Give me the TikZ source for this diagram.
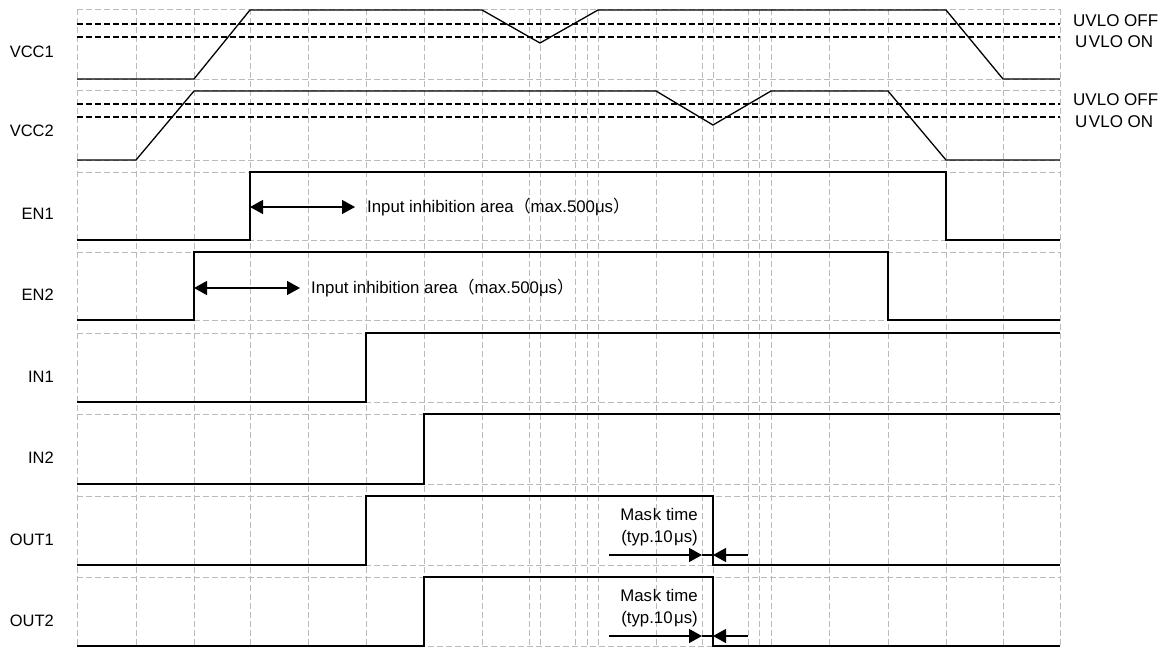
\documentclass[tikz,border=0pt]{standalone}
\usepackage{fontspec}
\setmainfont{Liberation Sans}
\newfontfamily\cjk{Noto Sans CJK SC}
\usetikzlibrary{arrows.meta}
\tikzset{mytip/.tip={Triangle[length=13pt,width=14pt]}}
\begin{document}
\begin{tikzpicture}[x=1pt,y=-1pt,
  gridline/.style={draw=black!27, line width=0.9pt, dash pattern=on 6pt off 3pt},
  sig/.style={draw=black, line width=1.3pt, line join=miter},
  uvlo/.style={draw=black, line width=1.2pt, dash pattern=on 6pt off 3pt},
  lbl/.style={font=\fontsize{16.5}{18}\selectfont, anchor=base east, inner sep=0pt},
  rlbl/.style={font=\fontsize{17}{18}\selectfont, anchor=base west, inner sep=0pt},
  note/.style={font=\fontsize{16.8}{18}\selectfont, inner sep=0pt},
  dim/.style={draw=black, line width=1.3pt}
]
\useasboundingbox (0,0) rectangle (1170,648);

% grid
\foreach \t/\b in {9/79, 90/160, 172/240, 252/320, 333/402, 414/484, 496/565, 577/646}{
  \draw[gridline] (77,\t) -- (1060,\t);
  \draw[gridline] (77,\b) -- (1060,\b);
}
\foreach \x in {77,136,194,250,308,366,424,482,529,540,575,587,598,656,702,713,748,759,771,829,888,946,1003,1060}{
  \draw[gridline] (\x,9) -- (\x,646);
}

% UVLO thresholds
\draw[uvlo] (77,24) -- (1060,24);
\draw[uvlo] (77,37) -- (1060,37);
\draw[uvlo] (77,104) -- (1060,104);
\draw[uvlo] (77,117) -- (1060,117);

% signals
\draw[sig] (77,79) -- (194,79) -- (250,10) -- (482,10) -- (540,43) -- (598,10) -- (946,10) -- (1003,79) -- (1060,79);
\draw[sig] (77,160) -- (136,160) -- (194,91) -- (656,91) -- (713,125) -- (771,91) -- (888,91) -- (946,160) -- (1060,160);
\draw[sig] (77,240) -- (250,240) -- (250,172) -- (946,172) -- (946,240) -- (1060,240);
\draw[sig] (77,320) -- (194,320) -- (194,252) -- (888,252) -- (888,320) -- (1060,320);
\draw[sig] (77,402) -- (366,402) -- (366,333) -- (1060,333);
\draw[sig] (77,484) -- (424,484) -- (424,414) -- (1060,414);
\draw[sig] (77,565) -- (366,565) -- (366,496) -- (713,496) -- (713,565) -- (1060,565);
\draw[sig] (77,646) -- (424,646) -- (424,577) -- (713,577) -- (713,646) -- (1060,646);

% left labels
\node[lbl] (lv1) at (54,57.5) {VCC1};
\node[lbl] (lv2) at (54,136) {VCC2};
\node[lbl] (le1) at (54,219) {EN1};
\node[lbl] (le2) at (54,300) {EN2};
\node[lbl] (li1) at (54,382) {IN1};
\node[lbl] (li2) at (54,463) {IN2};
\node[lbl] (lo1) at (54,545) {OUT1};
\node[lbl] (lo2) at (54,626) {OUT2};

% right labels
\node[rlbl] (u1off) at (1073,26) {UVLO OFF};
\node[rlbl] (u1on) at (1075,47) {U\kern1.5pt VLO ON};
\node[rlbl] (u2off) at (1073,105) {UVLO OFF};
\node[rlbl] (u2on) at (1075,127) {U\kern1.5pt VLO ON};

% input inhibition arrows
\coordinate (e1a) at (250,207);
\coordinate (e1b) at (355,207);
\draw[dim, mytip-mytip] (e1a) -- (e1b);
\node[note, anchor=base west] (t1) at (367,212.5) {Input inhibition area{\cjk （}max.500μs{\cjk ）}};
\coordinate (e2a) at (194,288);
\coordinate (e2b) at (300,288);
\draw[dim, mytip-mytip] (e2a) -- (e2b);
\node[note, anchor=base west] (t2) at (311,293.5) {Input inhibition area{\cjk （}max.500μs{\cjk ）}};

% mask time OUT1
\node[note, anchor=base east] (m1a) at (698,520) {Mas\kern1pt k time};
\node[note, anchor=base east] (m1b) at (698,542) {(typ.10\kern1.5pt μs)};
\coordinate (m1l) at (609,555);
\coordinate (m1t) at (702,555);
\coordinate (m1e) at (713,555);
\coordinate (m1r) at (748,555);
\draw[dim, -mytip] (m1l) -- (m1t);
\draw[dim] (m1t) -- (m1e);
\draw[dim, -mytip] (m1r) -- (m1e);

% mask time OUT2
\node[note, anchor=base east] (m2a) at (698,601) {Mas\kern1pt k time};
\node[note, anchor=base east] (m2b) at (698,623) {(typ.10\kern1.5pt μs)};
\coordinate (m2l) at (609,636);
\coordinate (m2t) at (702,636);
\coordinate (m2e) at (713,636);
\coordinate (m2r) at (748,636);
\draw[dim, -mytip] (m2l) -- (m2t);
\draw[dim] (m2t) -- (m2e);
\draw[dim, -mytip] (m2r) -- (m2e);
\end{tikzpicture}
\end{document}
